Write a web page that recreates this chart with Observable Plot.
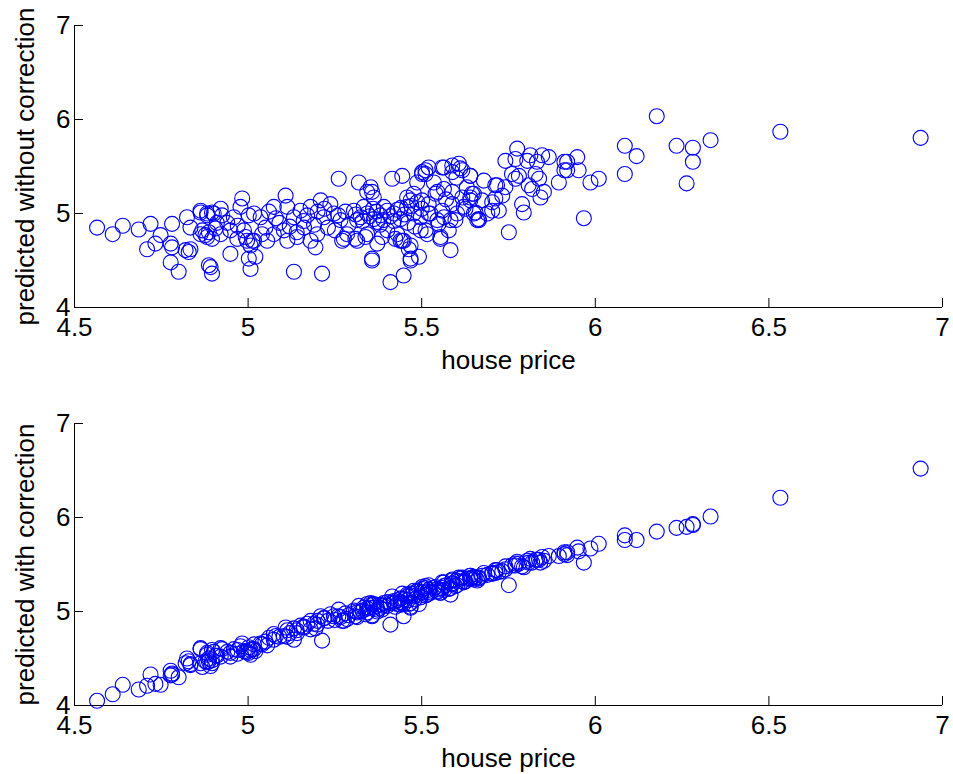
<!DOCTYPE html>
<html><head><meta charset="utf-8">
<script src="https://cdn.jsdelivr.net/npm/d3@7"></script>
<script src="https://cdn.jsdelivr.net/npm/@observablehq/plot@0.6"></script>
<style>html,body{margin:0;padding:0;background:#fff} #chart svg{display:block}</style>
</head><body><div id="chart"></div><script>
const housePrice = [
4.565,4.610,4.639,4.685,4.719,4.709,4.733,4.748,4.781,4.824,4.834,4.863,4.777,4.781,4.777,4.800,4.829,4.820,4.834,4.887,
4.896,4.892,4.868,4.877,4.887,4.896,4.906,4.925,4.896,4.882,4.949,4.983,4.978,5.002,4.988,4.993,5.012,5.002,5.007,5.021,
5.007,4.863,4.882,4.901,4.921,4.959,5.017,5.036,4.863,4.882,4.921,4.949,4.969,4.997,5.017,5.055,5.074,5.103,5.113,5.132,
5.141,5.161,5.180,5.199,5.218,5.074,5.113,5.151,5.180,5.209,5.237,5.247,5.266,5.285,5.276,5.314,5.343,5.372,5.401,5.430,
5.439,5.305,5.324,5.343,5.362,5.381,5.401,5.420,5.439,5.458,5.477,5.497,5.314,5.372,5.333,5.391,5.468,5.487,5.458,5.477,
5.343,5.362,5.261,5.319,5.353,5.357,5.415,5.444,5.487,5.501,5.108,5.132,5.213,5.357,5.410,5.448,5.468,5.463,5.444,5.194,
5.271,5.309,5.338,5.386,5.424,5.492,5.468,5.357,5.511,5.501,5.511,5.564,5.588,5.611,5.535,5.545,5.564,5.583,5.525,5.545,
5.564,5.583,5.602,5.621,5.640,5.650,5.516,5.554,5.497,5.448,5.468,5.650,5.660,5.520,5.559,5.607,5.588,5.617,5.640,5.679,
5.717,5.540,5.617,5.645,5.674,5.703,5.722,5.689,5.588,5.588,5.626,5.664,5.655,5.597,5.501,5.520,5.559,5.549,5.578,5.511,
5.554,5.775,5.741,5.770,5.804,5.813,5.847,5.866,5.832,5.919,5.948,5.952,5.919,5.895,5.986,6.010,5.967,5.751,5.789,5.794,
5.842,5.852,5.818,5.760,5.770,5.780,5.828,5.838,5.808,5.741,5.732,5.712,5.911,5.911,5.703,5.712,5.665,5.640,5.640,6.177,
6.533,6.937,6.085,6.119,6.234,6.281,6.281,6.332,6.085,6.263,5.050,5.090,5.120,5.160,5.190,5.230,5.260,5.290,5.310,5.330,
5.350,5.370,5.390,5.410,5.430,5.450,5.470,5.060,5.140,5.220,4.940,4.970,4.910,5.040,5.080,5.170,5.200,5.250,5.280,5.360,
5.380,5.420,5.440,5.460,5.480,5.500,5.520,5.570,5.600,5.630
];
const predictedWithout = [
4.85,4.78,4.87,4.83,4.89,4.62,4.68,4.77,4.89,4.96,4.85,5.01,4.68,4.64,4.48,4.38,4.59,4.61,4.62,4.45,
4.36,4.43,4.82,4.77,4.80,4.73,4.84,4.98,5.01,5.00,4.57,5.16,5.07,4.98,4.82,4.75,4.71,4.52,4.41,4.54,
4.66,5.03,4.98,5.00,5.05,4.96,5.00,4.96,4.78,4.75,4.78,4.82,4.73,4.71,4.71,4.71,4.78,4.82,4.71,4.96,
4.75,4.85,4.71,4.78,4.96,5.07,5.07,5.03,5.07,5.14,5.10,5.00,4.93,4.78,4.73,4.71,4.78,4.68,4.82,4.78,
4.71,5.03,4.96,5.00,4.94,4.98,5.03,5.00,4.94,5.07,5.00,4.96,4.93,4.91,5.07,5.07,5.14,5.12,5.17,5.21,
5.23,5.17,5.37,5.33,5.28,5.23,5.37,5.40,5.33,5.44,5.19,4.38,4.36,4.52,4.27,4.34,4.52,4.62,4.71,4.64,
4.71,4.73,4.75,4.75,4.73,4.54,4.50,4.50,5.46,5.42,5.42,5.49,5.51,5.48,5.33,5.23,5.26,4.61,5.00,4.93,
4.96,4.93,5.00,5.07,5.14,5.21,4.78,4.73,4.82,4.71,4.66,5.00,4.93,5.49,5.49,5.53,5.44,5.46,5.40,5.35,
5.30,5.21,5.17,5.21,5.14,5.12,5.03,5.00,5.23,5.10,5.05,4.94,5.01,4.93,5.14,5.00,5.03,4.89,4.82,4.82,
4.75,5.69,5.56,5.58,5.56,5.62,5.62,5.60,5.55,5.55,5.60,5.46,5.46,5.33,5.33,5.37,4.95,4.80,5.10,5.01,
5.17,5.23,5.26,5.42,5.37,5.40,5.42,5.37,5.30,5.28,5.19,5.16,5.46,5.55,5.03,5.30,4.93,5.17,5.40,6.035,
5.87,5.805,5.72,5.61,5.72,5.70,5.55,5.78,5.42,5.32,4.85,4.90,4.86,4.92,4.88,4.85,4.98,4.88,4.99,4.92,
4.97,5.02,4.93,4.97,5.04,4.99,5.08,5.02,4.80,5.05,4.90,4.87,4.90,4.78,4.95,4.98,5.02,4.82,5.02,5.05,
4.88,4.92,5.06,4.90,4.86,5.05,5.10,5.15,5.38,5.28
];
const predictedWith = [
4.05,4.12,4.22,4.17,4.33,4.21,4.23,4.22,4.34,4.50,4.44,4.61,4.37,4.33,4.32,4.30,4.47,4.45,4.43,4.47,
4.45,4.42,4.41,4.47,4.50,4.48,4.53,4.60,4.59,4.56,4.52,4.66,4.63,4.62,4.58,4.57,4.60,4.56,4.54,4.58,
4.59,4.60,4.54,4.57,4.61,4.60,4.65,4.66,4.45,4.46,4.52,4.56,4.55,4.57,4.60,4.64,4.70,4.74,4.73,4.82,
4.77,4.83,4.81,4.86,4.93,4.76,4.80,4.85,4.90,4.95,4.97,4.95,4.94,4.92,4.90,4.94,4.99,5.00,5.06,5.08,
5.07,5.01,5.00,5.03,5.04,5.07,5.10,5.11,5.10,5.16,5.16,5.17,4.99,5.02,5.04,5.09,5.19,5.21,5.18,5.22,
5.08,5.08,5.02,5.06,5.09,5.08,5.16,5.19,5.22,5.26,4.83,4.70,4.69,4.96,4.86,4.95,5.05,5.08,5.09,4.82,
4.90,4.95,4.97,5.02,5.05,5.08,5.04,4.95,5.27,5.24,5.25,5.31,5.34,5.35,5.25,5.24,5.27,5.18,5.20,5.21,
5.23,5.25,5.28,5.31,5.35,5.37,5.18,5.20,5.15,5.08,5.09,5.34,5.33,5.28,5.31,5.36,5.33,5.36,5.38,5.41,
5.44,5.26,5.32,5.36,5.38,5.41,5.42,5.39,5.30,5.29,5.32,5.35,5.36,5.27,5.21,5.21,5.25,5.22,5.24,5.17,
5.20,5.53,5.48,5.51,5.54,5.56,5.58,5.59,5.55,5.63,5.68,5.64,5.60,5.59,5.67,5.72,5.52,5.28,5.48,5.47,
5.52,5.54,5.52,5.49,5.49,5.51,5.55,5.55,5.52,5.45,5.43,5.41,5.61,5.63,5.40,5.44,5.36,5.35,5.38,5.85,
6.21,6.52,5.81,5.76,5.89,5.93,5.92,6.01,5.76,5.90,4.68,4.73,4.77,4.84,4.87,4.90,4.95,4.96,5.00,5.01,
5.04,5.06,5.06,5.09,5.12,5.13,5.17,4.72,4.80,4.93,4.57,4.59,4.53,4.65,4.74,4.87,4.90,4.91,4.98,5.07,
5.04,5.09,5.14,5.12,5.13,5.20,5.23,5.28,5.33,5.35
];
const xTicks = [4.5, 5, 5.5, 6, 6.5, 7];
const yTicks = [4, 5, 6, 7];
const xLabel = "house price";
const yLabels = ["predicted without correction", "predicted with correction"];

function panel(yValues, yLabel, marginTop, marginBottom) {
  const data = housePrice.map((x, i) => ({x, y: yValues[i]}));
  return Plot.plot({
    width: 953, height: 387,
    marginLeft: 74, marginRight: 11, marginTop, marginBottom,
    style: {fontFamily: "'Liberation Sans', Arial, Helvetica, sans-serif", fontSize: "26px", color: "black", background: "white", overflow: "visible"},
    x: {domain: [xTicks[0], xTicks[xTicks.length - 1]]},
    y: {domain: [yTicks[0], yTicks[yTicks.length - 1]]},
    marks: [
      Plot.axisX({ticks: xTicks, tickFormat: d => String(d), tickSize: -9, tickPadding: 19, fontSize: 26, label: xLabel, labelAnchor: "center", labelOffset: 61, labelArrow: "none"}),
      Plot.axisY({ticks: yTicks, tickFormat: d => String(d), tickSize: -9, tickPadding: 13, fontSize: 26, label: yLabel, labelAnchor: "center", labelOffset: 59, labelArrow: "none"}),
      Plot.ruleX([xTicks[0]], {stroke: "black"}),
      Plot.ruleY([yTicks[0]], {stroke: "black"}),
      Plot.dot(data, {x: "x", y: "y", r: 7.5, stroke: "#0000ff", strokeWidth: 1.1, fill: "none"})
    ]
  });
}
const root = document.getElementById("chart");
root.append(panel(predictedWithout, yLabels[0], 25, 80));
root.append(panel(predictedWith, yLabels[1], 36, 69));
</script></body></html>
